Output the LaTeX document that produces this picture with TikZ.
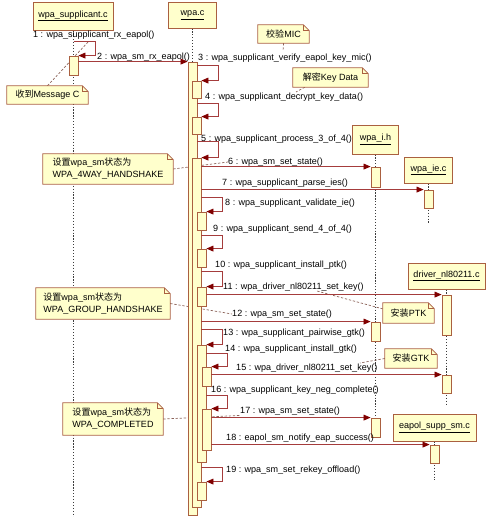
\documentclass[tikz,border=0pt]{standalone}
\usepackage{fontspec}
\setmainfont{Liberation Sans}
\newfontfamily\cjk{Noto Sans CJK SC}
\usepackage{tikz}
\usetikzlibrary{arrows.meta, positioning, fit, calc, backgrounds}

\definecolor{umlfill}{RGB}{255,255,204}
\definecolor{umlline}{RGB}{170,96,64}
\definecolor{msgline}{RGB}{165,60,60}
\definecolor{tipred}{RGB}{128,0,0}
\definecolor{lifegray}{RGB}{60,60,60}
\definecolor{notelink}{RGB}{140,100,90}

\newcommand{\umlfont}{\fontsize{7.7pt}{10.2pt}\selectfont}
% folded corner of a UML note
\newcommand{\notefold}[1]{%
  \fill[white] ([xshift=-5pt]#1.north east) -- (#1.north east) -- ([yshift=-5pt]#1.north east) -- cycle;
  \draw[noteline] (#1.north west) -- ([xshift=-5pt]#1.north east) -- ([yshift=-5pt]#1.north east)
    -- (#1.south east) -- (#1.south west) -- cycle;
  \draw[noteline] ([xshift=-5pt]#1.north east) -- ([xshift=-5pt,yshift=-5pt]#1.north east) -- ([yshift=-5pt]#1.north east);
}

\tikzset{
  classbox/.style={
    draw=umlline, fill=umlfill, line width=0.7pt,
    font=\umlfont, inner sep=1pt
  },
  actbar/.style={
    draw=umlline, fill=umlfill, line width=0.7pt, inner sep=0pt
  },
  notebox/.style={
    fill=umlfill, inner sep=1pt, align=left, font=\umlfont
  },
  noteline/.style={draw=umlline, line width=0.7pt},
  lifeline/.style={lifegray, line width=0.7pt, dash pattern=on 1pt off 1.5pt},
  notelinkline/.style={notelink, line width=0.6pt, dash pattern=on 2pt off 1.5pt},
  msgarrow/.style={
    msgline, line width=0.7pt, -{Triangle[length=6pt, width=5pt, color=tipred]}
  },
  msglabel/.style={anchor=west, inner sep=0pt, font=\umlfont},
}

\begin{document}
\begin{tikzpicture}[x=0.03cm, y=-0.03cm]
  \useasboundingbox (0,0) rectangle (501,517);
  \coordinate (bottom) at (0,517);

  % === Lifeline heads ===
  \node[classbox, minimum width=2.4cm, minimum height=0.84cm] (suppbox) at (73,16) {\underline{wpa\_supplicant.c}};
  \node[classbox, minimum width=1.44cm, minimum height=0.78cm] (wpabox) at (192.5,15) {\underline{wpa.c}};
  \node[classbox, minimum width=1.38cm, minimum height=0.87cm] (ihbox) at (375.5,139.5) {\underline{wpa\_i.h}};
  \node[classbox, minimum width=1.44cm, minimum height=0.78cm] (iebox) at (428.5,170) {\underline{wpa\_ie.c}};
  \node[classbox, minimum width=2.31cm, minimum height=0.78cm] (drvbox) at (446.5,276) {\underline{driver\_nl80211.c}};
  \node[classbox, minimum width=2.49cm, minimum height=0.81cm] (eapolbox) at (434.5,427.5) {\underline{eapol\_supp\_sm.c}};

  % === Activation bars ===
  \node[actbar, fit={(69,56) (78,75)}] (barS) {};
  \node[actbar, fit={(188,62) (197,515)}] (barA) {};
  \node[actbar, fit={(192,81) (201,98)}] (b3) {};
  \node[actbar, fit={(192,117) (201,134)}] (b4) {};
  \node[actbar, fit={(192,158) (201,507)}] (b5) {};
  \node[actbar, fit={(197,212) (206,230)}] (b8) {};
  \node[actbar, fit={(197,249) (206,267)}] (b9) {};
  \node[actbar, fit={(197,287) (206,306)}] (b10) {};
  \node[actbar, fit={(197,345) (206,462)}] (b13) {};
  \node[actbar, fit={(202,367) (211,386)}] (b14) {};
  \node[actbar, fit={(202,409) (211,450)}] (b16) {};
  \node[actbar, fit={(197,482) (206,500)}] (b19) {};
  \node[actbar, fit={(371,167) (380,187)}] (ih1) {};
  \node[actbar, fit={(371,322) (380,341)}] (ih2) {};
  \node[actbar, fit={(371,418) (380,437)}] (ih3) {};
  \node[actbar, fit={(424,190) (433,208)}] (ie1) {};
  \node[actbar, fit={(442,295) (451,335)}] (drv1) {};
  \node[actbar, fit={(442,375) (451,393)}] (drv2) {};
  \node[actbar, fit={(430,445) (439,463)}] (eap1) {};

  % === Message labels ===
  \node[msglabel] (lbl1) at (33,35) {1 : wpa\_supplicant\_rx\_eapol()};
  \node[msglabel] (lbl2) at (97,57) {2 : wpa\_sm\_rx\_eapol()};
  \node[msglabel] (lbl3) at (198,58) {3 : wpa\_supplicant\_verify\_eapol\_key\_mic()};
  \node[msglabel] (lbl4) at (205,97) {4 : wpa\_supplicant\_decrypt\_key\_data()};
  \node[msglabel] (lbl5) at (201,139) {5 : wpa\_supplicant\_process\_3\_of\_4()};
  \node[msglabel] (lbl6) at (228,162) {6 : wpa\_sm\_set\_state()};
  \node[msglabel] (lbl7) at (222,183) {7 : wpa\_supplicant\_parse\_ies()};
  \node[msglabel] (lbl8) at (225,203) {8 : wpa\_supplicant\_validate\_ie()};
  \node[msglabel] (lbl9) at (213,229) {9 : wpa\_supplicant\_send\_4\_of\_4()};
  \node[msglabel] (lbl10) at (215,265) {10 : wpa\_supplicant\_install\_ptk()};
  \node[msglabel] (lbl11) at (223,287) {11 : wpa\_driver\_nl80211\_set\_key()};
  \node[msglabel] (lbl12) at (232,314) {12 : wpa\_sm\_set\_state()};
  \node[msglabel] (lbl13) at (223,333) {13 : wpa\_supplicant\_pairwise\_gtk()};
  \node[msglabel] (lbl14) at (225,349) {14 : wpa\_supplicant\_install\_gtk()};
  \node[msglabel] (lbl15) at (236,368) {15 : wpa\_driver\_nl80211\_set\_key()};
  \node[msglabel] (lbl16) at (211,390) {16 : wpa\_supplicant\_key\_neg\_complete()};
  \node[msglabel] (lbl17) at (240,411) {17 : wpa\_sm\_set\_state()};
  \node[msglabel] (lbl18) at (226,438) {18 : eapol\_sm\_notify\_eap\_success()};
  \node[msglabel] (lbl19) at (226,470) {19 : wpa\_sm\_set\_rekey\_offload()};

  % === Notes ===
  \node[notebox, minimum width=2.43cm, minimum height=0.54cm] (msgc) at (47.5,95) {{\cjk 收到}Message C};
  \notefold{msgc}
  \node[notebox, minimum width=1.53cm, minimum height=0.54cm] (mic) at (283.5,34) {{\cjk 校验}MIC};
  \notefold{mic}
  \node[notebox, minimum width=2.25cm, minimum height=0.57cm] (keydata) at (330.5,77.5) {{\cjk 解密}Key Data};
  \notefold{keydata}
  \node[notebox, minimum width=3.9cm, minimum height=0.9cm] (set4way) at (108,169)
    {{\cjk 设置}wpa\_sm{\cjk 状态为}\\WPA\_4WAY\_HANDSHAKE};
  \notefold{set4way}
  \node[notebox, minimum width=4.02cm, minimum height=0.93cm] (setgroup) at (103,303.5)
    {{\cjk 设置}wpa\_sm{\cjk 状态为}\\WPA\_GROUP\_HANDSHAKE};
  \notefold{setgroup}
  \node[notebox, minimum width=3.0cm, minimum height=0.96cm] (setdone) at (113,419)
    {{\cjk 设置}wpa\_sm{\cjk 状态为}\\WPA\_COMPLETED};
  \notefold{setdone}
  \node[notebox, minimum width=1.53cm, minimum height=0.6cm] (ptk) at (408.5,313) {{\cjk 安装}PTK};
  \notefold{ptk}
  \node[notebox, minimum width=1.56cm, minimum height=0.57cm] (gtk) at (411,358.5) {{\cjk 安装}GTK};
  \notefold{gtk}

  \coordinate (msgcref) at (88,42);
  \coordinate (micref) at (283,51);
  \coordinate (keyref) at (296,92);
  \coordinate (ptkref) at (317,291);
  \coordinate (gtkref) at (360,363);

  % === Lifelines and note links (behind) ===
  \begin{scope}[on background layer]
    \draw[lifeline] (suppbox.south) -- (suppbox.south |- bottom);
    \draw[lifeline] (wpabox.south) -- (wpabox.south |- bottom);
    \draw[lifeline] (ihbox.south) -- (ihbox.south |- ih3.south);
    \draw[lifeline] (iebox.south) -- ($(ie1.south)+(0,15)$);
    \draw[lifeline] (drvbox.south) -- ($(drv2.south)+(0,12)$);
    \draw[lifeline] (eapolbox.south) -- ($(eap1.south)+(0,17)$);

    \draw[notelinkline] (msgc.north) -- (msgcref);
    \draw[notelinkline] (mic.south) -- (micref);
    \draw[notelinkline] ($(keydata.south west)+(12,0)$) -- (keyref);
    \draw[notelinkline] (set4way.east) -- (lbl6.west);
    \draw[notelinkline] (setgroup.east) -- (lbl12.west);
    \draw[notelinkline] (setdone.east) -- (lbl17.south west);
    \draw[notelinkline] ($(ptk.north west)!0.3!(ptk.south west)$) -- (ptkref);
    \draw[notelinkline] (gtk.west) -- (gtkref);
  \end{scope}

  % === Self calls ===
  \draw[msgarrow] ($(barS.north)+(0,-14)$) -- ++(22,0) |- (barS.north east);
  \draw[msgarrow] ($(barA.east |- b3.north)+(0,-15)$) -- ++(21,0) |- (b3.north east);
  \draw[msgarrow] ($(barA.east |- b4.north)+(0,-13)$) -- ++(21,0) |- (b4.north east);
  \draw[msgarrow] ($(barA.east |- b5.north)+(0,-16)$) -- ++(21,0) |- (b5.north east);
  \draw[msgarrow] ($(b5.east |- b8.north)+(0,-14)$) -- ++(21,0) |- (b8.north east);
  \draw[msgarrow] ($(b5.east |- b9.north)+(0,-13)$) -- ++(21,0) |- (b9.north east);
  \draw[msgarrow] ($(b5.east |- b10.north)+(0,-15)$) -- ++(21,0) |- (b10.north east);
  \draw[msgarrow] ($(b5.east |- b13.north)+(0,-15)$) -- ++(21,0) |- (b13.north east);
  \draw[msgarrow] ($(b13.east |- b14.north)+(0,-13)$) -- ++(21,0) |- (b14.north east);
  \draw[msgarrow] ($(b13.east |- b16.north)+(0,-13)$) -- ++(21,0) |- (b16.north east);
  \draw[msgarrow] ($(b5.east |- b19.north)+(0,-14)$) -- ++(21,0) |- (b19.north east);

  % === Calls to other files ===
  \draw[msgarrow] (barS.east |- barA.north) -- (barA.north west);
  \draw[msgarrow] (b5.east |- ih1.north) -- (ih1.north west);
  \draw[msgarrow] (b5.east |- ie1.north) -- (ie1.north west);
  \draw[msgarrow] (b10.east |- drv1.north) -- (drv1.north west);
  \draw[msgarrow] (b5.east |- ih2.north) -- (ih2.north west);
  \draw[msgarrow] (b14.east |- drv2.north) -- (drv2.north west);
  \draw[msgarrow] (b16.east |- ih3.north) -- (ih3.north west);
  \draw[msgarrow] (b16.east |- eap1.north) -- (eap1.north west);

\end{tikzpicture}
\end{document}
